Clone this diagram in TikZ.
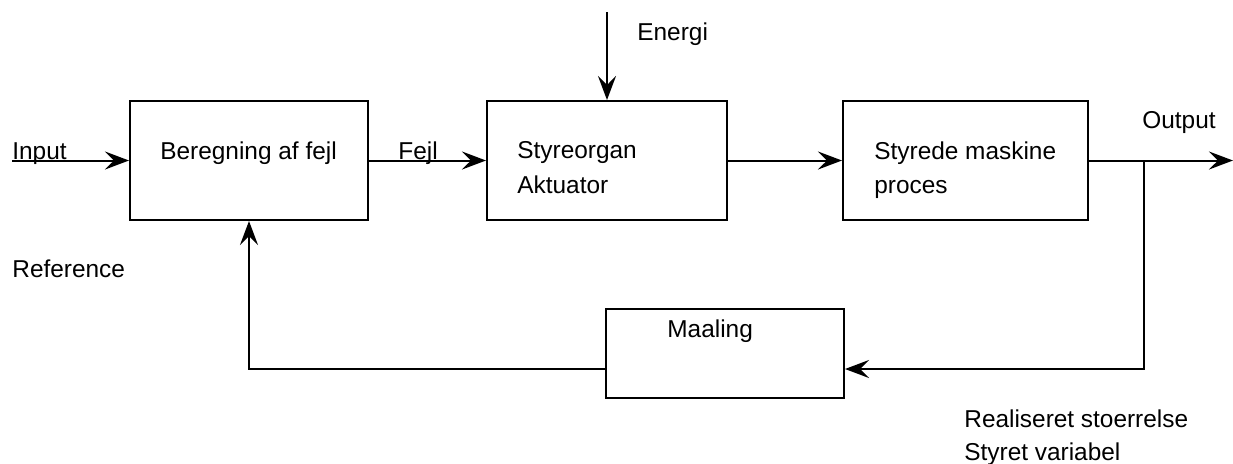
\documentclass[tikz,border=0pt]{standalone}
\usepackage{fontspec}
\setmainfont{Liberation Sans}
\usetikzlibrary{arrows.meta,positioning}
\tikzset{
  box/.style={
    rectangle,
    draw=black,
    line width=1pt,
    inner sep=0pt,
    minimum width=119pt,
    minimum height=59.5pt
  },
  lbl/.style={
    anchor=base west,
    inner sep=0pt,
    font=\fontsize{12.2}{17}\selectfont
  },
  arrow/.style={-{Stealth[length=12pt,width=9pt,inset=4.5pt]}, line width=1pt}
}
\begin{document}
\begin{tikzpicture}[x=0.5pt,y=-0.5pt]
    \useasboundingbox (0,0) rectangle (1233,463);

    % blokke
    \node[box] (bereg) at (249,160.5) {};
    \node[box, minimum width=120pt] (styr) at (607,160.5) {};
    \node[box, minimum width=122.5pt] (proc) at (965.5,160.5) {};
    \node[box, minimum height=44.5pt] (maal) at (725,353.5) {};

    % frie ender og knaek
    \coordinate (in) at (12,160.5);
    \coordinate (en) at (607,12);
    \coordinate (out) at (1233,160.5);
    \coordinate (br) at (1144,160.5);
    \coordinate (fb) at (1144,369);

    % tekster
    \node[lbl] (tin) at (12,159) {Input};
    \node[lbl] (tbereg) at (160,159) {Beregning af fejl};
    \node[lbl] (tfejl) at (398,159) {Fejl};
    \node[lbl] (tstyr) at (517,158) {Styreorgan};
    \node[lbl] (takt) at (517,193) {Aktuator};
    \node[lbl] (ten) at (637,40) {Energi};
    \node[lbl] (tproc) at (874,159) {Styrede maskine};
    \node[lbl] (tproc2) at (874,193) {proces};
    \node[lbl] (tout) at (1142,128) {Output};
    \node[lbl] (tref) at (12,277) {Reference};
    \node[lbl] (tmaal) at (667,337) {Maaling};
    \node[lbl] (treal) at (964,427) {Realiseret stoerrelse};
    \node[lbl] (tvar) at (964,460) {Styret variabel};

    % forbindelser
    \draw[arrow] (in) -- (bereg.west);
    \draw[arrow] (bereg.east) -- (styr.west);
    \draw[arrow] (en) -- (styr.north);
    \draw[arrow] (styr.east) -- (proc.west);
    \draw[arrow] (proc.east) -- (out);
    \draw[arrow] (br) -- (fb) -- (fb -| maal.east);
    \draw[arrow] (maal.west |- fb) -| (bereg.south);
\end{tikzpicture}
\end{document}
